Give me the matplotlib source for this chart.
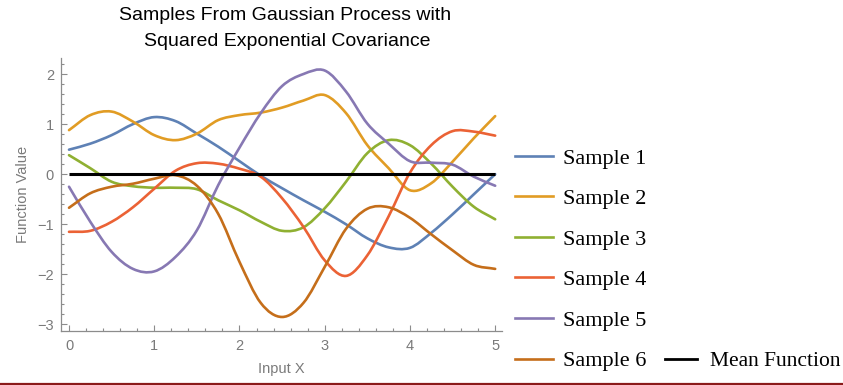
import numpy as np
import matplotlib
matplotlib.use('Agg')
import matplotlib.pyplot as plt
from matplotlib.path import Path
from matplotlib.patches import PathPatch
from matplotlib.lines import Line2D
from matplotlib.ticker import MultipleLocator

# Input locations and sampled function values
input_x = [0.0, 0.25, 0.5, 0.75, 1.0, 1.25, 1.5, 1.75, 2.0, 2.25, 2.5,
           2.75, 3.0, 3.25, 3.5, 3.75, 4.0, 4.25, 4.5, 4.75, 5.0]

sample_1 = [0.49, 0.61, 0.78, 1.0, 1.14, 1.06, 0.81, 0.55, 0.26, -0.03, -0.28,
            -0.52, -0.75, -1.0, -1.28, -1.46, -1.47, -1.17, -0.8, -0.4, 0.0]
sample_2 = [0.88, 1.18, 1.25, 1.05, 0.78, 0.68, 0.81, 1.08, 1.18, 1.23, 1.33,
            1.47, 1.58, 1.22, 0.58, 0.12, -0.32, -0.18, 0.25, 0.72, 1.16]
sample_3 = [0.38, 0.12, -0.15, -0.24, -0.27, -0.27, -0.3, -0.52, -0.72, -0.95, -1.13,
            -1.06, -0.68, -0.15, 0.42, 0.68, 0.58, 0.21, -0.25, -0.65, -0.9]
sample_4 = [-1.15, -1.13, -0.95, -0.66, -0.29, 0.07, 0.22, 0.21, 0.11, -0.05, -0.48,
            -1.05, -1.72, -2.03, -1.62, -0.84, 0.03, 0.58, 0.86, 0.85, 0.77]
sample_5 = [-0.25, -0.95, -1.55, -1.89, -1.94, -1.65, -1.12, -0.22, 0.53, 1.22, 1.76,
            2.0, 2.07, 1.65, 1.01, 0.61, 0.26, 0.23, 0.19, -0.05, -0.23]
sample_6 = [-0.67, -0.38, -0.25, -0.19, -0.09, -0.02, -0.23, -0.79, -1.75, -2.57, -2.85,
            -2.57, -1.85, -1.09, -0.69, -0.66, -0.87, -1.2, -1.52, -1.81, -1.89]

mean_x = [0.0, 5.0]
mean_y = [0.0, 0.0]

sample_names = ['Sample 1', 'Sample 2', 'Sample 3', 'Sample 4', 'Sample 5', 'Sample 6']
sample_colors = ['#5E81B5', '#E19C24', '#8FB032', '#EB6235', '#8778B3', '#C56E1A']


def smooth_path(x, y):
    """Catmull-Rom curve through the points, as cubic Bezier segments."""
    pts = np.column_stack([x, y]).astype(float)
    ext = np.vstack([2 * pts[0] - pts[1], pts, 2 * pts[-1] - pts[-2]])
    verts = [pts[0]]
    codes = [Path.MOVETO]
    for i in range(len(pts) - 1):
        p0, p1, p2, p3 = ext[i], ext[i + 1], ext[i + 2], ext[i + 3]
        verts += [p1 + (p2 - p0) / 6, p2 - (p3 - p1) / 6, p2]
        codes += [Path.CURVE4] * 3
    return Path(verts, codes)


axis_gray = '#8c8c8c'
label_gray = '#7a7a7a'
sans = ['Liberation Sans', 'DejaVu Sans']
serif = ['Liberation Serif', 'DejaVu Serif']

fig = plt.figure(figsize=(8.43, 3.85), dpi=100)
ax = fig.add_axes([61 / 843, 54 / 385, 441 / 843, 273 / 385])

samples = [sample_1, sample_2, sample_3, sample_4, sample_5, sample_6]
for vals, color in zip(samples, sample_colors):
    ax.add_patch(PathPatch(smooth_path(input_x, vals), fill=False,
                           edgecolor=color, lw=1.9, capstyle='round',
                           joinstyle='round'))
ax.plot(mean_x, mean_y, color='black', lw=2.2, solid_capstyle='butt')

ax.set_xlim(-0.094, 5.08)
ax.set_ylim(-3.13, 2.32)

for side in ('top', 'right'):
    ax.spines[side].set_visible(False)
for side in ('left', 'bottom'):
    ax.spines[side].set_color(axis_gray)
    ax.spines[side].set_linewidth(0.9)

ax.xaxis.set_major_locator(MultipleLocator(1))
ax.xaxis.set_minor_locator(MultipleLocator(0.2))
ax.yaxis.set_major_locator(MultipleLocator(1))
ax.yaxis.set_minor_locator(MultipleLocator(0.2))
ax.tick_params(which='both', direction='in', color=axis_gray, width=0.8,
               labelcolor=label_gray, labelsize=10.5)
ax.tick_params(which='major', length=4)
ax.tick_params(which='minor', length=2)
ax.tick_params(axis='x', pad=6)
ax.tick_params(axis='y', pad=5)
ax.set_yticks([-3, -2, -1, 0, 1, 2])
ax.set_yticklabels(['\u22123', '\u22122', '\u22121', '0', '1', '2'])
for lbl in ax.get_xticklabels() + ax.get_yticklabels():
    lbl.set_family(sans)

ax.set_xlabel('Input X', color=label_gray, fontsize=10.5, family=sans, labelpad=6)
ax.set_ylabel('Function Value', color=label_gray, fontsize=10.5, family=sans, labelpad=5)

fig.text(285 / 843, 1 - 15 / 385, 'Samples From Gaussian Process with',
         ha='center', va='center', fontsize=14, family=sans)
fig.text(287 / 843, 1 - 42 / 385, 'Squared Exponential Covariance',
         ha='center', va='center', fontsize=14, family=sans)

handles = [Line2D([], [], color=c, lw=1.9) for c in sample_colors]
fig.legend(handles, sample_names, loc='upper left',
           bbox_to_anchor=(515 / 843, 1 - 148 / 385),
           frameon=False, borderpad=0, borderaxespad=0,
           handlelength=1.7, handletextpad=0.45, labelspacing=0.9,
           prop={'family': serif, 'size': 16})
fig.legend([Line2D([], [], color='black', lw=2.0)], ['Mean Function'],
           loc='center left', bbox_to_anchor=(665 / 843, 1 - 361 / 385),
           frameon=False, borderpad=0, borderaxespad=0,
           handlelength=1.5, handletextpad=0.6,
           prop={'family': serif, 'size': 15.5})

fig.add_artist(Line2D([0, 1], [1.5 / 385, 1.5 / 385], transform=fig.transFigure,
                      color='#8b1a1a', lw=1.6))

fig.savefig('out.png', dpi=100)
